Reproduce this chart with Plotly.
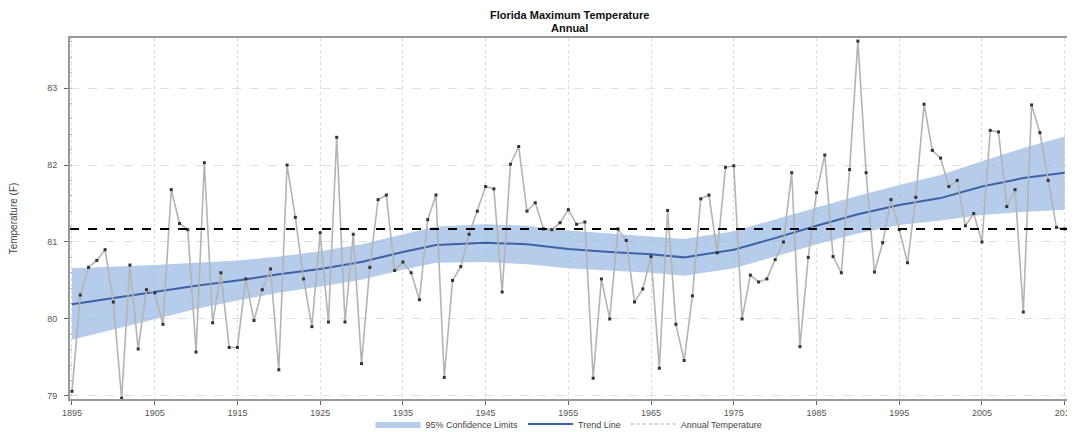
import plotly.graph_objects as go

years = list(range(1895, 2016))
annual_temp = [
    79.06, 80.31, 80.67, 80.76, 80.90, 80.22, 78.97, 80.70, 79.61, 80.38,
    80.34, 79.93, 81.68, 81.24, 81.16, 79.57, 82.03, 79.95, 80.60, 79.63,
    79.63, 80.52, 79.98, 80.38, 80.65, 79.34, 82.00, 81.32, 80.52, 79.90,
    81.12, 79.96, 82.36, 79.96, 81.10, 79.42, 80.67, 81.55, 81.61, 80.63,
    80.74, 80.60, 80.25, 81.29, 81.61, 79.24, 80.50, 80.68, 81.10, 81.40,
    81.72, 81.69, 80.35, 82.01, 82.24, 81.40, 81.51, 81.17, 81.16, 81.25,
    81.42, 81.23, 81.26, 79.23, 80.52, 80.00, 81.17, 81.02, 80.22, 80.39,
    80.81, 79.36, 81.41, 79.93, 79.46, 80.30, 81.56, 81.61, 80.86, 81.97,
    81.99, 80.00, 80.57, 80.48, 80.52, 80.77, 81.00, 81.90, 79.64, 80.80,
    81.64, 82.13, 80.81, 80.60, 81.94, 83.61, 81.90, 80.61, 80.99, 81.55,
    81.16, 80.73, 81.58, 82.79, 82.19, 82.09, 81.72, 81.80, 81.21, 81.37,
    81.00, 82.45, 82.43, 81.46, 81.68, 80.09, 82.78, 82.42, 81.80, 81.19,
    81.17,
]

trend_years = [1895, 1900, 1905, 1910, 1915, 1920, 1925, 1930, 1935, 1939,
               1945, 1950, 1955, 1960, 1965, 1969, 1975, 1980, 1985, 1990,
               1995, 2000, 2005, 2010, 2015]
trend = [80.19, 80.27, 80.35, 80.43, 80.50, 80.58, 80.65, 80.74, 80.87, 80.96,
         80.99, 80.97, 80.91, 80.87, 80.84, 80.80, 80.90, 81.05, 81.21, 81.36,
         81.48, 81.57, 81.72, 81.83, 81.90]
ci_lower = [79.73, 79.86, 80.00, 80.13, 80.24, 80.34, 80.42, 80.51, 80.64, 80.73,
            80.74, 80.71, 80.66, 80.63, 80.60, 80.56, 80.66, 80.81, 80.97, 81.11,
            81.22, 81.28, 81.35, 81.39, 81.42]
ci_upper = [80.66, 80.68, 80.70, 80.73, 80.76, 80.81, 80.88, 80.97, 81.10, 81.20,
            81.23, 81.21, 81.15, 81.11, 81.07, 81.04, 81.14, 81.29, 81.45, 81.60,
            81.74, 81.87, 82.05, 82.22, 82.37]

mean_temp = 81.17
x_ticks = list(range(1895, 2016, 10))
y_ticks = [79, 80, 81, 82, 83]

FONT = "Liberation Sans, Arial, sans-serif"

fig = go.Figure()

fig.add_trace(go.Scatter(
    x=trend_years, y=ci_lower, mode="lines", line=dict(width=0),
    showlegend=False, hoverinfo="skip"))
fig.add_trace(go.Scatter(
    x=trend_years, y=ci_upper, mode="lines", line=dict(width=0),
    fill="tonexty", fillcolor="rgba(160,190,228,0.78)",
    name="95% Confidence Limits"))
fig.add_trace(go.Scatter(
    x=trend_years, y=trend, mode="lines",
    line=dict(color="#3b62a6", width=2), name="Trend Line"))
fig.add_trace(go.Scatter(
    x=years, y=annual_temp, mode="lines+markers",
    line=dict(color="#b4b4b4", width=1.6),
    marker=dict(color="#333333", size=3, symbol="square"),
    name="Annual Temperature", showlegend=False))
# legend entry for annual temperature: light line only
fig.add_trace(go.Scatter(
    x=[None], y=[None], mode="lines",
    line=dict(color="#d0d0d0", width=2, dash="dot"),
    name="Annual Temperature"))

fig.add_shape(type="line", xref="paper", x0=0, x1=1, yref="y",
              y0=mean_temp, y1=mean_temp,
              line=dict(color="black", width=2, dash="dash"))

fig.add_annotation(text="<b>Florida Maximum Temperature</b>", xref="paper",
                   yref="paper", x=0.50, y=1.0 + 23 / 361, xanchor="center",
                   yanchor="middle", showarrow=False,
                   font=dict(family=FONT, size=11, color="#111111"))
fig.add_annotation(text="<b>Annual</b>", xref="paper",
                   yref="paper", x=0.50, y=1.0 + 10 / 361, xanchor="center",
                   yanchor="middle", showarrow=False,
                   font=dict(family=FONT, size=11, color="#111111"))

# the page body has an 8px margin, so the figure is sized to fit the window
fig.update_layout(
    width=1067, height=424,
    margin=dict(l=62, r=7, t=30, b=33, autoexpand=False),
    paper_bgcolor="white", plot_bgcolor="white",
    font=dict(family=FONT, size=10, color="#555555"),
    xaxis=dict(range=[1894.76, 2015.4], tickvals=x_ticks, automargin=False,
               ticks="outside", ticklen=4, tickcolor="#666",
               showline=True, linecolor="#999", linewidth=2, mirror=True,
               showgrid=True, gridcolor="#d8dde6", griddash="dot",
               zeroline=False, tickfont=dict(size=9, color="#555")),
    yaxis=dict(range=[78.96, 83.65], tickvals=y_ticks, automargin=False,
               ticks="outside", ticklen=4, tickcolor="#666",
               ticklabelstandoff=5,
               showline=True, linecolor="#999", linewidth=2, mirror=True,
               showgrid=True, gridcolor="#d6e0ee", griddash="dash",
               zeroline=False, tickfont=dict(size=9, color="#555"),
               minor=dict(dtick=0.2, ticks="inside", ticklen=2, tickcolor="#bbb"),
               title=dict(text="Temperature (F)", standoff=30,
                          font=dict(size=10, color="#444"))),
    legend=dict(orientation="h", x=0.50, xanchor="center", y=-25 / 361,
                yanchor="middle", font=dict(size=9, color="#444"),
                bgcolor="rgba(0,0,0,0)", traceorder="normal",
                itemwidth=45),
    showlegend=True,
)

fig.write_html("out.html")
